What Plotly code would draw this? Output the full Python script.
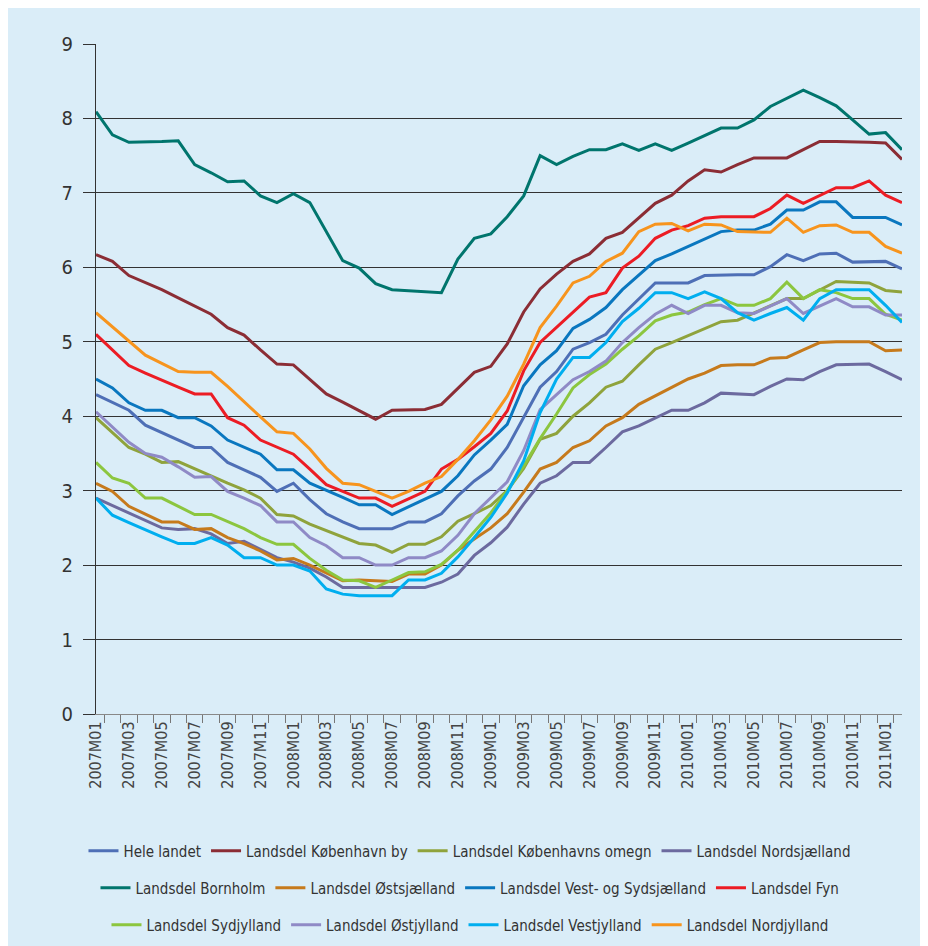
import plotly.graph_objects as go

months = [
    "2007M01", "2007M02", "2007M03", "2007M04", "2007M05", "2007M06", "2007M07", "2007M08", "2007M09", "2007M10", "2007M11", "2007M12",
    "2008M01", "2008M02", "2008M03", "2008M04", "2008M05", "2008M06", "2008M07", "2008M08", "2008M09", "2008M10", "2008M11", "2008M12",
    "2009M01", "2009M02", "2009M03", "2009M04", "2009M05", "2009M06", "2009M07", "2009M08", "2009M09", "2009M10", "2009M11", "2009M12",
    "2010M01", "2010M02", "2010M03", "2010M04", "2010M05", "2010M06", "2010M07", "2010M08", "2010M09", "2010M10", "2010M11", "2010M12",
    "2011M01", "2011M02",
]
# every second month is labelled
tick_labels = [m if i % 2 == 0 else "" for i, m in enumerate(months)]

hele_landet = [4.29, 4.19, 4.08, 3.88, 3.78, 3.68, 3.58, 3.58, 3.38, 3.28, 3.18, 2.99,
               3.10, 2.88, 2.69, 2.58, 2.49, 2.49, 2.49, 2.58, 2.58, 2.69, 2.93, 3.13,
               3.29, 3.58, 3.98, 4.39, 4.60, 4.90, 4.99, 5.10, 5.36, 5.58, 5.79, 5.79,
               5.79, 5.89, 5.90, 5.90, 5.90, 6.01, 6.17, 6.09, 6.18, 6.19, 6.07, 6.07,
               6.08, 5.98]
kobenhavn_by = [6.17, 6.08, 5.89, 5.80, 5.70, 5.59, 5.48, 5.37, 5.19, 5.09, 4.89, 4.70,
                4.69, 4.49, 4.30, 4.19, 4.08, 3.96, 4.08, 4.09, 4.09, 4.16, 4.37, 4.59,
                4.67, 4.97, 5.40, 5.71, 5.91, 6.08, 6.18, 6.39, 6.47, 6.66, 6.86, 6.97,
                7.16, 7.31, 7.28, 7.38, 7.47, 7.47, 7.47, 7.58, 7.69, 7.69, 7.68, 7.68,
                7.67, 7.45]
kobenhavns_omegn = [3.98, 3.78, 3.58, 3.49, 3.38, 3.39, 3.29, 3.20, 3.10, 3.01, 2.90, 2.68,
                    2.66, 2.55, 2.46, 2.37, 2.29, 2.27, 2.17, 2.28, 2.28, 2.38, 2.59, 2.69,
                    2.80, 3.00, 3.30, 3.69, 3.77, 4.00, 4.18, 4.39, 4.47, 4.69, 4.90, 4.99,
                    5.08, 5.17, 5.27, 5.29, 5.39, 5.49, 5.58, 5.58, 5.70, 5.81, 5.80, 5.79,
                    5.69, 5.67]
nordsjaelland = [2.90, 2.80, 2.70, 2.60, 2.50, 2.48, 2.49, 2.42, 2.29, 2.32, 2.21, 2.10,
                 2.04, 1.96, 1.84, 1.70, 1.70, 1.70, 1.70, 1.70, 1.70, 1.77, 1.88, 2.13,
                 2.30, 2.51, 2.82, 3.10, 3.20, 3.38, 3.38, 3.58, 3.79, 3.87, 3.98, 4.08,
                 4.08, 4.18, 4.31, 4.30, 4.29, 4.40, 4.50, 4.49, 4.60, 4.69, 4.70, 4.70,
                 4.60, 4.49]
bornholm = [8.09, 7.78, 7.68, 7.69, 7.69, 7.70, 7.38, 7.27, 7.15, 7.16, 6.96, 6.87,
            6.99, 6.87, 6.48, 6.09, 5.99, 5.78, 5.70, 5.69, 5.68, 5.66, 6.11, 6.39,
            6.45, 6.68, 6.96, 7.50, 7.38, 7.49, 7.58, 7.58, 7.66, 7.57, 7.66, 7.57,
            7.67, 7.77, 7.87, 7.87, 7.98, 8.16, 8.27, 8.38, 8.28, 8.17, 7.98, 7.79,
            7.81, 7.58]
ostsjaelland = [3.10, 2.99, 2.79, 2.69, 2.58, 2.58, 2.48, 2.49, 2.37, 2.29, 2.19, 2.07,
                2.09, 2.00, 1.89, 1.79, 1.80, 1.79, 1.78, 1.88, 1.88, 2.00, 2.20, 2.35,
                2.50, 2.69, 2.98, 3.29, 3.38, 3.58, 3.67, 3.87, 3.98, 4.16, 4.27, 4.38,
                4.50, 4.58, 4.68, 4.69, 4.69, 4.78, 4.79, 4.89, 4.99, 5.00, 5.00, 5.00,
                4.88, 4.89]
vest_sydsjaelland = [4.50, 4.38, 4.18, 4.08, 4.08, 3.98, 3.98, 3.87, 3.68, 3.59, 3.49, 3.28,
                     3.28, 3.10, 3.01, 2.91, 2.81, 2.81, 2.68, 2.78, 2.88, 2.99, 3.20, 3.48,
                     3.68, 3.89, 4.41, 4.69, 4.88, 5.18, 5.30, 5.46, 5.70, 5.90, 6.09, 6.18,
                     6.28, 6.38, 6.48, 6.50, 6.50, 6.58, 6.77, 6.77, 6.88, 6.88, 6.67, 6.67,
                     6.67, 6.57]
fyn = [5.10, 4.89, 4.68, 4.58, 4.48, 4.39, 4.30, 4.30, 3.98, 3.88, 3.68, 3.58,
       3.49, 3.29, 3.08, 2.99, 2.90, 2.90, 2.79, 2.89, 2.99, 3.29, 3.42, 3.59,
       3.77, 4.07, 4.61, 4.99, 5.19, 5.39, 5.60, 5.66, 5.99, 6.15, 6.39, 6.50,
       6.56, 6.66, 6.68, 6.68, 6.68, 6.79, 6.97, 6.86, 6.97, 7.07, 7.07, 7.16,
       6.97, 6.87]
sydjylland = [3.38, 3.17, 3.10, 2.90, 2.90, 2.79, 2.68, 2.68, 2.58, 2.49, 2.37, 2.28,
              2.28, 2.09, 1.93, 1.80, 1.79, 1.70, 1.80, 1.90, 1.91, 2.01, 2.20, 2.45,
              2.70, 3.00, 3.33, 3.70, 4.03, 4.38, 4.56, 4.70, 4.90, 5.08, 5.28, 5.36,
              5.40, 5.50, 5.58, 5.49, 5.49, 5.58, 5.80, 5.58, 5.70, 5.66, 5.58, 5.58,
              5.37, 5.29]
ostjylland = [4.06, 3.85, 3.65, 3.50, 3.45, 3.32, 3.18, 3.19, 2.99, 2.90, 2.80, 2.58,
              2.58, 2.37, 2.26, 2.10, 2.10, 2.00, 2.00, 2.10, 2.10, 2.19, 2.40, 2.69,
              2.90, 3.12, 3.54, 4.09, 4.29, 4.49, 4.60, 4.74, 4.99, 5.19, 5.37, 5.49,
              5.38, 5.49, 5.49, 5.39, 5.38, 5.48, 5.58, 5.38, 5.48, 5.58, 5.47, 5.47,
              5.36, 5.36]
vestjylland = [2.90, 2.67, 2.57, 2.47, 2.38, 2.29, 2.29, 2.37, 2.27, 2.10, 2.10, 2.00,
               2.00, 1.92, 1.68, 1.61, 1.59, 1.59, 1.59, 1.80, 1.80, 1.89, 2.11, 2.37,
               2.64, 2.97, 3.40, 4.05, 4.50, 4.79, 4.79, 4.99, 5.27, 5.45, 5.66, 5.66,
               5.58, 5.67, 5.58, 5.39, 5.29, 5.38, 5.46, 5.29, 5.58, 5.70, 5.70, 5.70,
               5.49, 5.26]
nordjylland = [5.39, 5.20, 5.01, 4.82, 4.71, 4.60, 4.59, 4.59, 4.40, 4.19, 3.99, 3.79,
               3.77, 3.56, 3.30, 3.10, 3.08, 2.99, 2.90, 2.99, 3.10, 3.19, 3.42, 3.67,
               3.95, 4.27, 4.70, 5.19, 5.48, 5.79, 5.88, 6.08, 6.19, 6.48, 6.58, 6.59,
               6.49, 6.58, 6.57, 6.48, 6.48, 6.47, 6.66, 6.47, 6.56, 6.57, 6.47, 6.47,
               6.28, 6.19]

series_names = [
    "Hele landet", "Landsdel København by", "Landsdel Københavns omegn", "Landsdel Nordsjælland",
    "Landsdel Bornholm", "Landsdel Østsjælland", "Landsdel Vest- og Sydsjælland", "Landsdel Fyn",
    "Landsdel Sydjylland", "Landsdel Østjylland", "Landsdel Vestjylland", "Landsdel Nordjylland",
]
series_values = [
    hele_landet, kobenhavn_by, kobenhavns_omegn, nordsjaelland,
    bornholm, ostsjaelland, vest_sydsjaelland, fyn,
    sydjylland, ostjylland, vestjylland, nordjylland,
]
series_colors = [
    "#4e6fb6", "#8b2d35", "#8fa33c", "#6c6a9f",
    "#00756d", "#c67a1c", "#0a77bf", "#ec1c24",
    "#8cc63f", "#8f8ac6", "#00aeef", "#f7941d",
]
legend_rows = ["legend"] * 4 + ["legend2"] * 4 + ["legend3"] * 4

FONT = "Liberation Sans Narrow, Arial Narrow, DejaVu Sans Condensed, Liberation Sans, sans-serif"
BG = "#daedf8"

fig = go.Figure()
for name, vals, col, lg in zip(series_names, series_values, series_colors, legend_rows):
    fig.add_trace(go.Scatter(
        x=months, y=vals, mode="lines", name=name,
        line=dict(color=col, width=3), legend=lg,
    ))

legend_common = dict(
    orientation="h", x=0.464, xanchor="center", yanchor="middle",
    font=dict(family=FONT, size=15, color="#333333"),
    bgcolor="rgba(0,0,0,0)", traceorder="normal",
)

fig.update_layout(
    width=928, height=946,
    margin=dict(l=88, r=34, t=36, b=240, autoexpand=False),
    paper_bgcolor=BG,
    plot_bgcolor=BG,
    font=dict(family=FONT, color="#333333"),
    showlegend=True,
    legend=dict(legend_common, y=-0.2045),
    legend2=dict(legend_common, y=-0.2597),
    legend3=dict(legend_common, y=-0.315),
    xaxis=dict(
        type="category", automargin=False,
        tickmode="array", tickvals=months, ticktext=tick_labels,
        tickson="boundaries", ticks="outside", ticklen=8, tickcolor="#777777", tickwidth=1,
        tickangle=-90, tickfont=dict(family=FONT, size=16, color="#444444"),
        showgrid=False, showline=True, linecolor="#888888", linewidth=1,
        zeroline=False,
    ),
    yaxis=dict(
        range=[0, 9], dtick=1, tick0=0, automargin=False,
        showgrid=True, gridcolor="#333333", gridwidth=1,
        ticks="outside", ticklen=12, tickcolor="#333333", tickwidth=1,
        tickfont=dict(family=FONT, size=20, color="#333333"),
        showline=True, linecolor="#333333", linewidth=1,
        zeroline=False, ticklabelstandoff=6,
    ),
)

fig.write_html("out.html")
